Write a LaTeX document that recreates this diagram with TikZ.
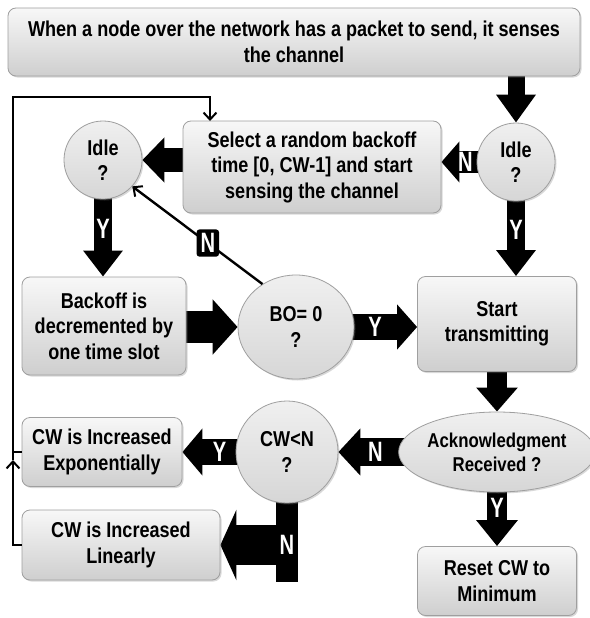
\documentclass[tikz,border=0pt]{standalone}
\usepackage{fontspec}
\setmainfont{Liberation Sans}[FakeStretch=0.84]
\newfontfamily\labfam{Liberation Sans}[FakeStretch=0.72]
\usetikzlibrary{arrows.meta,shapes.geometric,shadows,backgrounds,calc}
\newcommand\mainfnt{\fontsize{21.5}{25.5}\selectfont\bfseries}
\newcommand\ackfnt{\fontsize{20}{24}\selectfont\bfseries}
\newcommand\labfnt{\labfam\fontsize{28}{28}\selectfont\bfseries}
\tikzset{
  shade/.style={draw=gray!75, line width=0.8pt, top color=gray!6, bottom color=gray!38,
    drop shadow={opacity=0.3, shadow xshift=1.5pt, shadow yshift=-1.5pt}},
  box/.style={shade, rounded corners=8pt, align=center, font=\mainfnt, inner sep=2pt},
  circ/.style={shade, circle, top color=gray!12, bottom color=gray!32, align=center, font=\mainfnt, inner sep=0pt},
  ell/.style={shade, ellipse, top color=gray!12, bottom color=gray!32, align=center, font=\mainfnt, inner sep=0pt},
  fat/.style n args={3}{line width=#1pt, -{Triangle[width=#2pt,length=#3pt]}},
  lab/.style={text=white, font=\labfnt, inner sep=0pt},
  fb/.style={line width=2.6pt},
  barb/.style={-{Straight Barb[length=7pt,width=13pt,line width=2pt]}}
}
\begin{document}
\begin{tikzpicture}[x=1pt,y=-1pt]
\useasboundingbox (0,0) rectangle (589,618);
% nodes
\node[box, minimum width=572pt, minimum height=68pt] (top) at (294,42)
  {When a node over the network has a packet to send, it senses\\the channel};
\node[box, minimum width=258pt, minimum height=92pt] (sel) at (312,167)
  {Select a random backoff\\time [0, CW-1] and start\\sensing the channel};
\node[circ, minimum size=78pt] (lidle) at (103,160) {Idle\\?};
\node[circ, minimum size=78pt] (ridle) at (516,162) {Idle\\?};
\node[box, minimum width=164pt, minimum height=98pt] (backoff) at (104,326)
  {Backoff is\\decremented by\\one time slot};
\node[ell, minimum width=116pt, minimum height=104pt] (bo) at (296,327) {BO= 0\\?};
\node[box, minimum width=159pt, minimum height=95pt] (start) at (497,324)
  {Start\\transmitting};
\node[ell, minimum width=166pt, minimum height=80pt, font=\ackfnt] (ack) at (497,452)
  {Acknowledgment\\Received ?};
\node[circ, minimum size=102pt] (cwn) at (287,452) {CW<N\\?};
\node[box, minimum width=160pt, minimum height=69pt] (exp) at (102,452)
  {CW is Increased\\Exponentially};
\node[box, minimum width=198pt, minimum height=70pt] (lin) at (121,545)
  {CW is Increased\\Linearly};
\node[box, minimum width=159pt, minimum height=69pt] (reset) at (497,581)
  {Reset CW to\\Minimum};
% block arrows
\begin{scope}[on background layer]
\fill[white] (0,0) rectangle (589,618);
\draw[fat={17}{38}{28}] (ridle |- top.center) -- (ridle.north);
\draw[fat={22}{40}{18}] (ridle.center) -- (sel.east |- ridle.center);
\draw[fat={24}{44}{22}] (sel.center |- lidle.center) -- (lidle.east);
\draw[fat={18}{38}{26}] (lidle.center) -- (lidle |- backoff.north);
\draw[fat={18}{38}{26}] (ridle.center) -- (ridle |- start.north);
\draw[fat={32}{54}{25}] (backoff.center |- bo.center) -- (bo.west);
\draw[fat={26}{44}{20}] (bo.center) -- (start.west |- bo.center);
\draw[fat={20}{40}{24}] (start.center -| ack.center) -- (ack.north);
\draw[fat={28}{46}{22}] (ack.center) -- (cwn.east);
\draw[fat={26}{46}{20}] (cwn.center) -- (exp.east);
\draw[fat={20}{40}{26}] (ack.center) -- (reset.north);
\draw[line width=22pt] (cwn.center) -- ($(cwn.center |- lin.east)+(0,37)$);
\draw[fat={40}{70}{16}] (cwn.center |- lin.east) -- (lin.east);
\end{scope}
% labels on block arrows
\node[lab] at ($(ridle.west)!0.32!(sel.east |- ridle.west)$) {N};
\node[lab] at ($(lidle.south)!0.38!(lidle |- backoff.north)$) {Y};
\node[lab] at ($(ridle.south)!0.38!(ridle |- start.north)$) {Y};
\node[lab] at ($(bo.east)!0.33!(start.west |- bo.east)$) {Y};
\node[lab] at ($(ack.west)!0.38!(cwn.east)$) {N};
\node[lab] at ($(cwn.west)!0.3!(exp.east)$) {Y};
\node[lab] at ($(ack.south)!0.28!(reset.north)$) {Y};
\node[lab] at (cwn.center |- lin.east) {N};
% thin arrow BO -> Idle
\draw[line width=2.4pt, barb] (bo.128) -- (lidle.-42) node[pos=0.42, fill=black, rounded corners=3pt, text=white, font=\labfnt, inner sep=4pt] (nbox) {N};
% feedback loop
\coordinate (fbtip) at (13,460);
\coordinate (fbtop) at (13,97);
\coordinate (selin) at (210,121);
\draw[fb, barb] (lin.west) -| (fbtip);
\draw[fb] (exp.west) -- (exp.west -| fbtip);
\draw[fb, barb] (fbtip) -- (fbtop) -| (selin);
\end{tikzpicture}
\end{document}
